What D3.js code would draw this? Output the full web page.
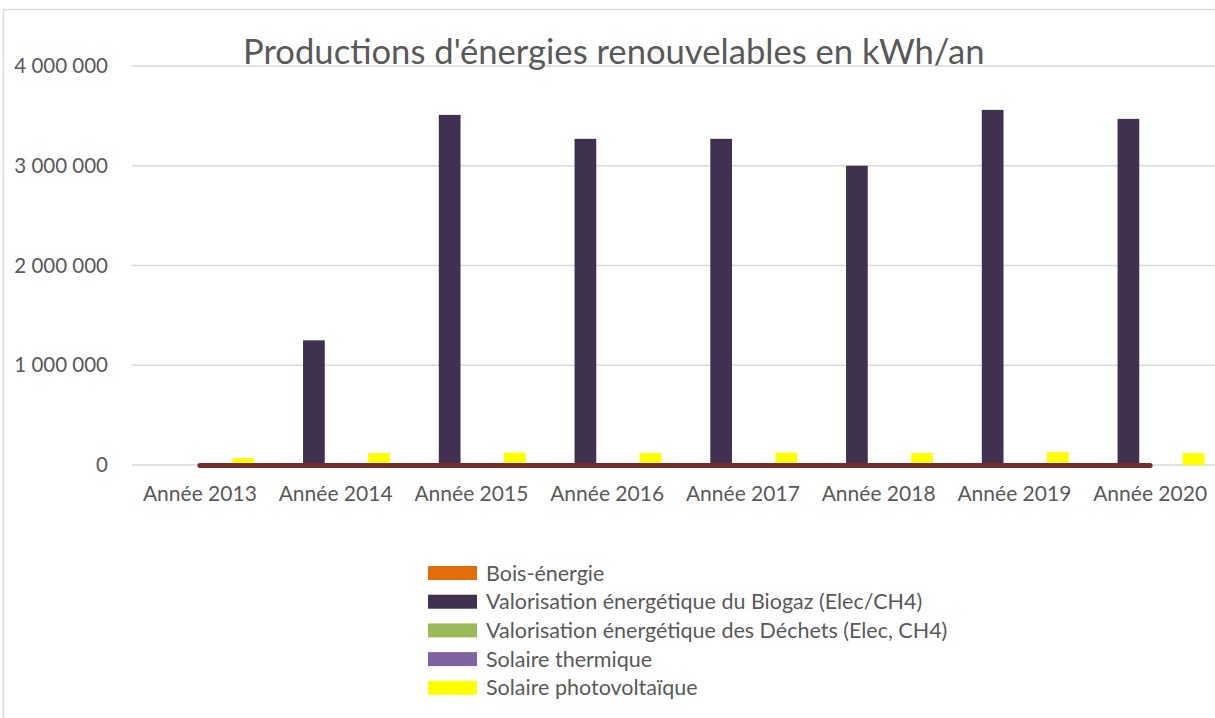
<!DOCTYPE html>
<html>
<script src="https://d3js.org/d3.v7.min.js"></script>
<style>
    body {
        margin: 0;
        background: #fff;
    }

    text {
        font-family: Lato, "Open Sans", sans-serif;
        fill: #595959;
    }

    .domain,
    .tick line {
        display: none;
    }
</style>

<body>
</body>
<script>
    const width = 1215,
        height = 718;

    const years = ["Année 2013", "Année 2014", "Année 2015", "Année 2016", "Année 2017", "Année 2018", "Année 2019", "Année 2020"];
    const seriesNames = ["Bois-énergie", "Valorisation énergétique du Biogaz (Elec/CH4)",
        "Valorisation énergétique des Déchets (Elec, CH4)", "Solaire thermique", "Solaire photovoltaïque"];
    const seriesColors = ["#e46c0a", "#403151", "#9bbb59", "#8064a2", "#ffff00"];
    const bois = [0, 0, 0, 0, 0, 0, 0, 0];
    const biogaz = [0, 1250000, 3510000, 3270000, 3270000, 3000000, 3560000, 3470000];
    const dechets = [0, 0, 0, 0, 0, 0, 0, 0];
    const thermique = [0, 0, 0, 0, 0, 0, 0, 0];
    const photovoltaique = [70000, 120000, 125000, 120000, 125000, 120000, 130000, 120000];
    // extra line series drawn on top (not in legend)
    const lineValues = [0, 0, 0, 0, 0, 0, 0, 0];
    const yTicks = [0, 1000000, 2000000, 3000000, 4000000];

    const series = [bois, biogaz, dechets, thermique, photovoltaique];

    const svg = d3.select("body").append("svg").attr("width", width).attr("height", height);

    // chart frame
    svg.append("path")
        .attr("d", `M3.5,${height} V9.5 H${width}`)
        .attr("fill", "none")
        .attr("stroke", "#d9d9d9")
        .attr("stroke-width", 1.5);

    const x0 = d3.scaleBand()
        .domain(years)
        .range([132, 1218])
        .paddingInner(0.2)
        .paddingOuter(0.1);
    const x1 = d3.scaleBand()
        .domain(d3.range(series.length))
        .range([0, x0.bandwidth()]);
    const y = d3.scaleLinear()
        .domain([0, 4000000])
        .range([465, 66]);

    // gridlines
    svg.append("g").selectAll("line")
        .data(yTicks)
        .join("line")
        .attr("x1", 132)
        .attr("x2", width)
        .attr("y1", d => y(d))
        .attr("y2", d => y(d))
        .attr("stroke", "#d9d9d9")
        .attr("stroke-width", 1.5);

    // y axis labels
    const fmt = d => d3.format(",")(d).replace(/,/g, " ");
    svg.append("g")
        .attr("transform", "translate(108,0)")
        .call(d3.axisLeft(y).tickValues(yTicks).tickFormat(fmt).tickSize(0).tickPadding(0))
        .selectAll("text")
        .attr("font-size", 20.5)
        .attr("fill", "#595959");

    // bars
    const groups = svg.append("g").selectAll("g")
        .data(years)
        .join("g")
        .attr("transform", d => `translate(${x0(d)},0)`);
    groups.selectAll("rect")
        .data((d, i) => series.map((s, k) => ({ k, v: s[i] })))
        .join("rect")
        .attr("x", d => x1(d.k))
        .attr("width", x1.bandwidth())
        .attr("y", d => y(d.v))
        .attr("height", d => y(0) - y(d.v))
        .attr("fill", d => seriesColors[d.k]);

    // line series
    const line = d3.line()
        .x((d, i) => x0(years[i]) + x0.bandwidth() / 2)
        .y(d => y(d) + 0.5);
    svg.append("path")
        .datum(lineValues)
        .attr("d", line)
        .attr("fill", "none")
        .attr("stroke", "#772c2a")
        .attr("stroke-width", 5)
        .attr("stroke-linecap", "round");

    // x axis labels
    svg.append("g")
        .attr("transform", "translate(0,486)")
        .call(d3.axisBottom(x0).tickSize(0).tickPadding(0))
        .selectAll("text")
        .attr("font-size", 21)
        .attr("fill", "#595959");

    // title
    const title = svg.append("text")
        .attr("x", 243)
        .attr("y", 64)
        .attr("font-size", 32)
        .text("Productions d'énergies renouvelables en kWh/an");
    const tw = title.node().getComputedTextLength();
    title.attr("font-size", 32 * 742 / tw);

    // legend
    const legend = svg.append("g").selectAll("g")
        .data(seriesNames)
        .join("g")
        .attr("transform", (d, i) => `translate(428,${573 + i * 28.7})`);
    legend.append("rect")
        .attr("x", 0)
        .attr("y", -7)
        .attr("width", 49)
        .attr("height", 14)
        .attr("fill", (d, i) => seriesColors[i]);
    legend.append("text")
        .attr("x", 58)
        .attr("dy", "0.35em")
        .attr("font-size", 21.5)
        .text(d => d);
</script>

</html>
